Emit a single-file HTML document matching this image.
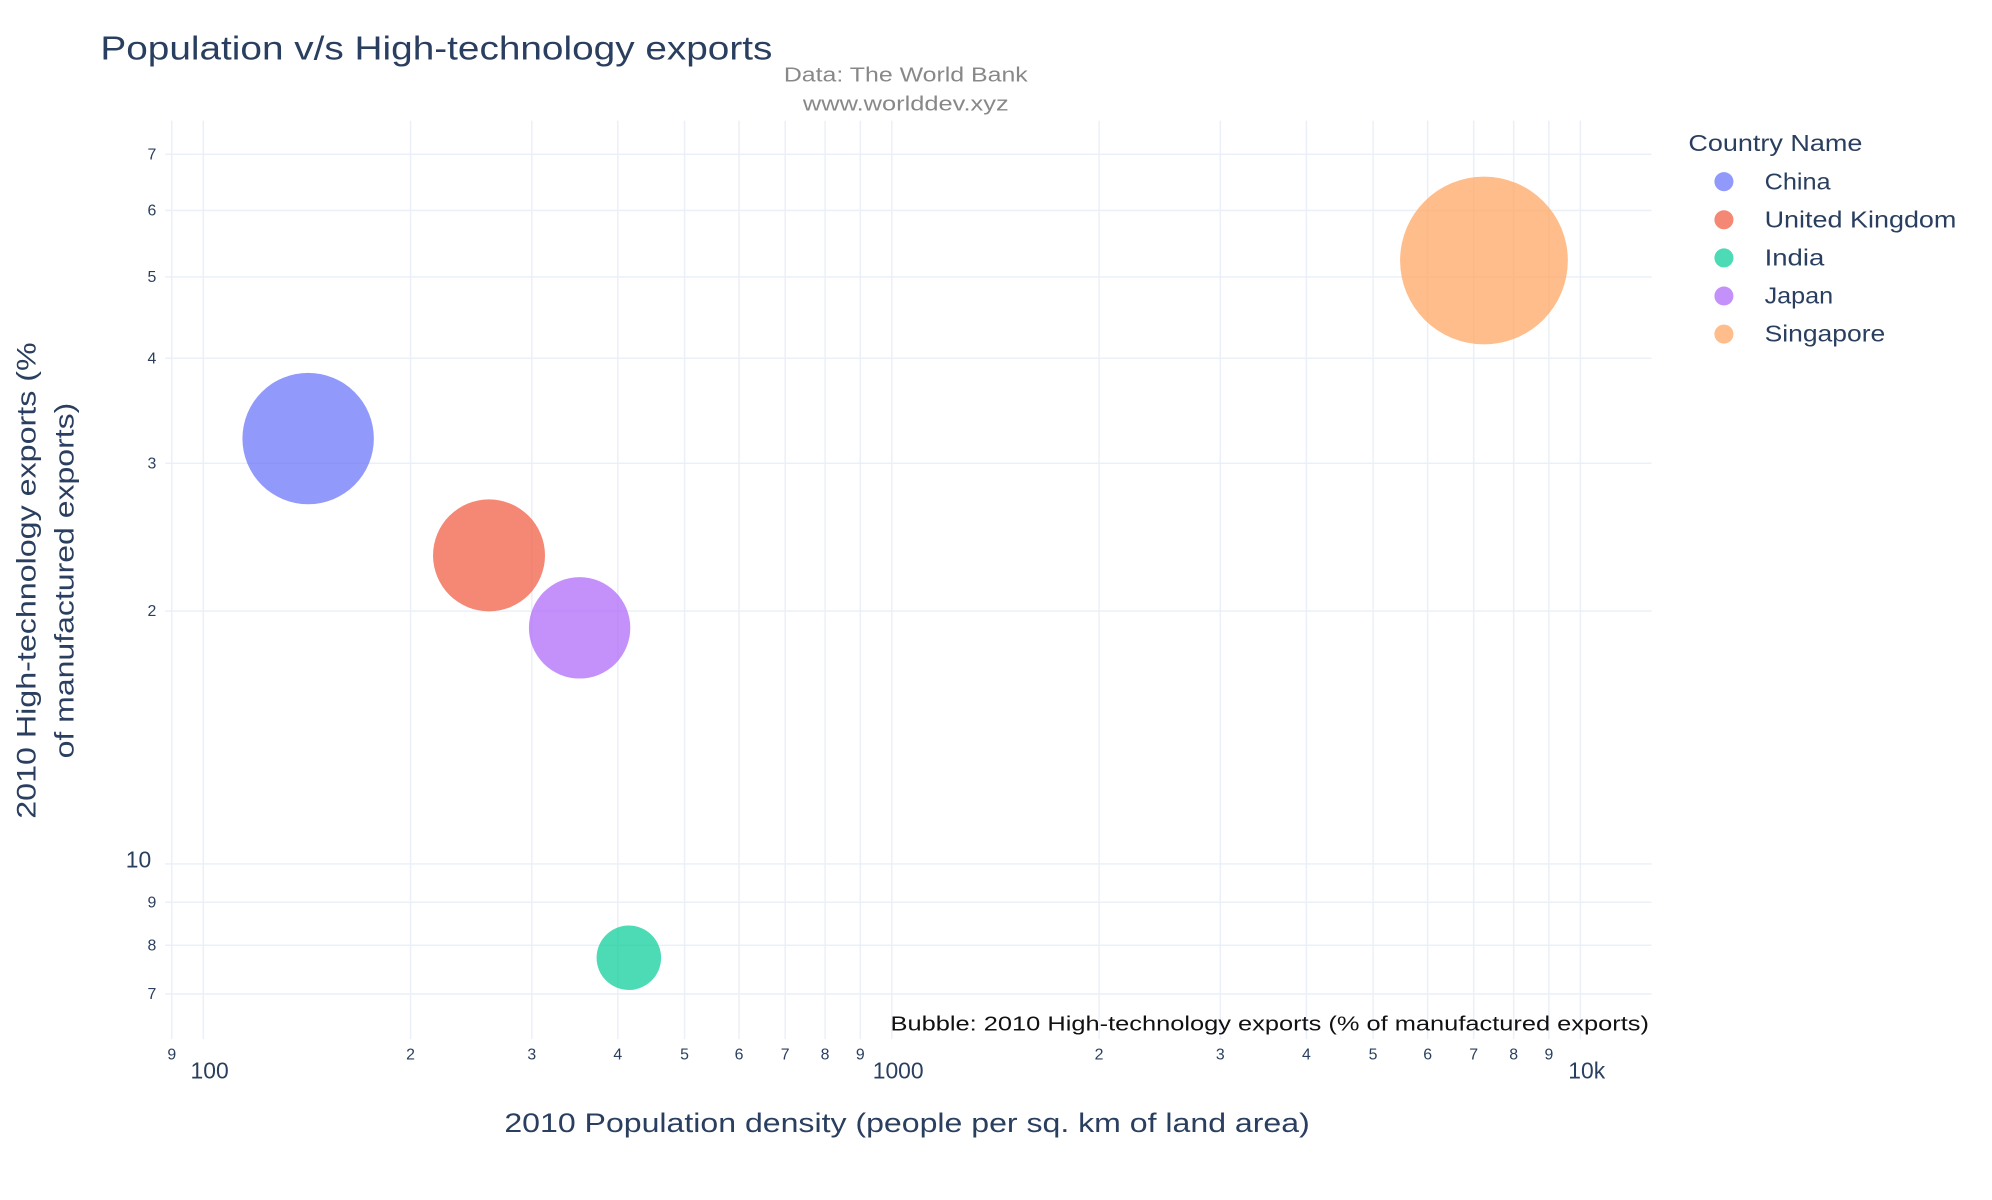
<!DOCTYPE html>
<html><head><meta charset="utf-8">
<style>
html,body{margin:0;padding:0;background:#fff;}
svg{display:block;font-family:"Liberation Sans",sans-serif;}
</style></head>
<body>
<svg id="chart" width="1992" height="1200" viewBox="0 0 1568 944.6" xmlns="http://www.w3.org/2000/svg">
<rect x="0" y="0" width="1568" height="945" fill="#fff"/>
<g id="grid"></g>
<g id="ticks"></g>
<g id="bubbles"></g>
<text x="79" y="47" font-size="26" fill="#2a3f5f" textLength="529" lengthAdjust="spacingAndGlyphs">Population v/s High-technology exports</text>
<text x="713" y="64" font-size="16" fill="#888" text-anchor="middle" textLength="192" lengthAdjust="spacingAndGlyphs">Data: The World Bank</text>
<text x="713" y="87" font-size="16" fill="#888" text-anchor="middle" textLength="162" lengthAdjust="spacingAndGlyphs">www.worlddev.xyz</text>
<text x="1298" y="811" font-size="16" fill="#111" text-anchor="end" textLength="597" lengthAdjust="spacingAndGlyphs">Bubble: 2010 High-technology exports (% of manufactured exports)</text>
<text x="714" y="891" font-size="21" fill="#2a3f5f" text-anchor="middle" textLength="634" lengthAdjust="spacingAndGlyphs">2010 Population density (people per sq. km of land area)</text>
<g transform="translate(28,457) rotate(-90)">
<text x="0" y="0" font-size="21" fill="#2a3f5f" text-anchor="middle" textLength="375" lengthAdjust="spacingAndGlyphs">2010 High-technology exports (%</text>
<text x="0" y="30" font-size="21" fill="#2a3f5f" text-anchor="middle" textLength="280" lengthAdjust="spacingAndGlyphs">of manufactured exports)</text>
</g>
<g id="legend">
<text x="1329" y="119" font-size="18" fill="#2a3f5f" textLength="137" lengthAdjust="spacingAndGlyphs">Country Name</text>
</g>
</svg>
<script>
const countries = ["China","United Kingdom","India","Japan","Singapore"];
const density = [142, 260, 415, 352, 7244];
const hightech = [32.1, 23.3, 7.73, 19.1, 52.3];
const colors = ["#636efa","#EF553B","#00cc96","#ab63fa","#FFA15A"];
const legendWidths = [52, 151, 47, 54, 95];
const xTickValues = [90,100,200,300,400,500,600,700,800,900,1000,2000,3000,4000,5000,6000,7000,8000,9000,10000];
const xTickLabels = ["9","100","2","3","4","5","6","7","8","9","1000","2","3","4","5","6","7","8","9","10k"];
const yTickValues = [7,8,9,10,20,30,40,50,60,70];
const yTickLabels = ["7","8","9","10","2","3","4","5","6","7"];

const NS="http://www.w3.org/2000/svg";
const PL=130, PR=1300, PT=95, PB=818;
function xs(v){return 160+542*(Math.log10(v)-2);}
function ys(v){return 680-661*(Math.log10(v)-1);}
function rs(v){return 9.13*Math.sqrt(v);}
function mk(tag,attrs,parent){const e=document.createElementNS(NS,tag);for(const k in attrs)e.setAttribute(k,attrs[k]);parent.appendChild(e);return e;}
const grid=document.getElementById('grid'), ticks=document.getElementById('ticks'), bub=document.getElementById('bubbles'), leg=document.getElementById('legend');
xTickValues.forEach((v,i)=>{
  const x=xs(v);
  const l=mk('line',{x1:x,x2:x,y1:PT,y2:PB,stroke:'#ebf0f8','stroke-width':1.2},grid);
  
  
  const major=(v===100||v===1000||v===10000);
  const t=mk('text',{x:major?x+5:x,y:major?849:834,'font-size':major?18:12.5,fill:'#2a3f5f','text-anchor':'middle'},ticks);
  t.textContent=xTickLabels[i];
  
  
});
yTickValues.forEach((v,i)=>{
  const y=ys(v);
  const l=mk('line',{x1:PL,x2:PR,y1:y,y2:y,stroke:'#ebf0f8','stroke-width':1.2},grid);
  
  
  const major=(v===10);
  const t=mk('text',{x:major?119:123,y:major?y+3:y+4,'font-size':major?18:12.5,fill:'#2a3f5f','text-anchor':'end'},ticks);
  t.textContent=yTickLabels[i];
  
  
});
countries.forEach((c,i)=>{
  const b=mk('circle',{cx:xs(density[i]),cy:ys(hightech[i]),r:rs(hightech[i]),fill:colors[i],'fill-opacity':0.7},bub);
  
  
  const y=143+30*i;
  const g=mk('g',{},leg);
  
  
  mk('circle',{cx:1357,cy:y,r:7.5,fill:colors[i],'fill-opacity':0.7},g);
  const t=mk('text',{x:1389,y:y+6,'font-size':18,fill:'#2a3f5f',textLength:legendWidths[i],lengthAdjust:'spacingAndGlyphs'},g);
  t.textContent=c;
});
</script>
</body></html>
